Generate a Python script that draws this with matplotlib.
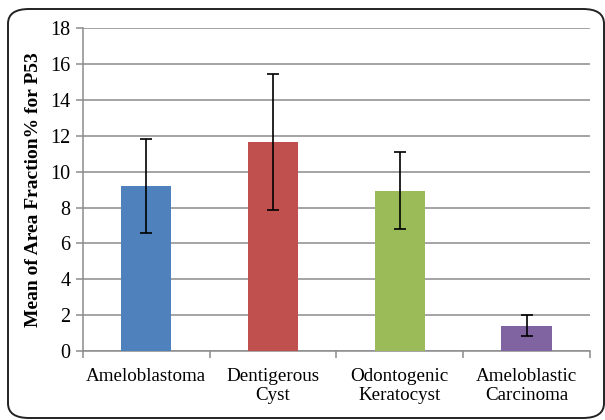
import matplotlib.pyplot as plt
from matplotlib.patches import FancyBboxPatch

# data
categories = ['Ameloblastoma', 'Dentigerous\nCyst', 'Odontogenic\nKeratocyst', 'Ameloblastic\nCarcinoma']
means = [9.2, 11.65, 8.95, 1.42]
errors = [2.62, 3.8, 2.12, 0.6]
colors = ['#4F81BD', '#C0504D', '#9BBB59', '#8064A2']
yticks = [0, 2, 4, 6, 8, 10, 12, 14, 16, 18]

plt.rcParams['font.family'] = ['Liberation Serif', 'DejaVu Serif']

fig = plt.figure(figsize=(6.05, 4.2), dpi=100)
ax = fig.add_axes([0.137, 0.164, 0.838, 0.769])

# rounded outer frame
frame = FancyBboxPatch((8 / 605, 2 / 420), 596 / 605, 409 / 420,
                       boxstyle='round,pad=0,rounding_size=0.035',
                       transform=fig.transFigure, fill=False,
                       edgecolor='#222222', linewidth=1.4, zorder=0)
fig.patches.append(frame)

x = list(range(len(categories)))
ax.bar(x, means, width=0.395, color=colors, zorder=3)
ax.errorbar(x, means, yerr=errors, fmt='none', ecolor='black',
            elinewidth=1.2, capsize=4, capthick=1.2, zorder=4)

ax.set_xlim(-0.5, 3.5)
ax.set_ylim(0, 18)
ax.set_yticks(yticks)
ax.yaxis.grid(True, color='#8c8c8c', linewidth=1.1, zorder=0)
ax.set_axisbelow(True)

ax.set_xticks([-0.5, 0.5, 1.5, 2.5, 3.5])
ax.set_xticklabels([])
ax.set_xticks(x, minor=True)
ax.set_xticklabels(categories, minor=True, fontsize=13.7, linespacing=1.15)
ax.tick_params(axis='x', which='minor', length=0, pad=12)
ax.tick_params(axis='x', which='major', length=5, color='#8c8c8c', width=1.1)
ax.tick_params(axis='y', length=5, color='#8c8c8c', width=1.1, labelsize=14.5, pad=4)

for side in ['top', 'right']:
    ax.spines[side].set_visible(False)
ax.spines['left'].set_color('#8c8c8c')
ax.spines['bottom'].set_color('#8c8c8c')
ax.spines['left'].set_linewidth(1.1)
ax.spines['bottom'].set_linewidth(1.1)

ax.set_ylabel('Mean of Area Fraction% for P53', fontsize=14, fontweight='bold', labelpad=6)

fig.savefig('out.png', dpi=100)
